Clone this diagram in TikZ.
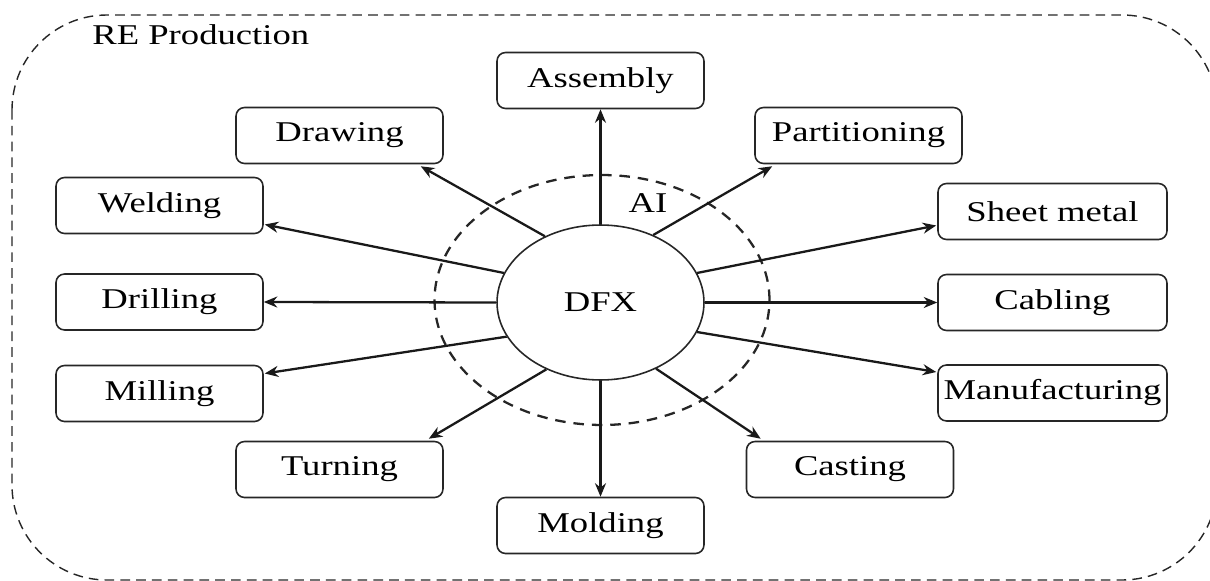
\documentclass[tikz,border=0pt]{standalone}
\usepackage{fontspec}
\setmainfont{Liberation Serif}[FakeStretch=1.28]
\usetikzlibrary{shapes.geometric,arrows.meta,calc}
\begin{document}
\begin{tikzpicture}[x=0.02cm,y=-0.02cm,
  box/.style={draw=black!85, line width=0.9pt, rounded corners=0.17cm,
    minimum width=4.14cm, minimum height=1.12cm, inner sep=0pt,
    font=\fontsize{16.3}{19}\selectfont, text=black},
  widebox/.style={box, minimum width=4.58cm},
  link/.style={draw=black!90, line width=1.3pt,
    -{Stealth[length=2.7mm,width=2.2mm]}},
  lbl/.style={font=\fontsize{16.3}{19}\selectfont, text=black, inner sep=0pt}]
\useasboundingbox (0,0) rectangle (1210,581);

% dashed enclosure of the production area
\draw[draw=black!85, line width=0.8pt, dash pattern=on 5.5pt off 3.5pt,
  rounded corners=1.9cm] (12,15) rectangle (1217,580);
\node[lbl, anchor=base west] (re) at (92,45) {RE Production};

% AI layer around the DFX hub
\node[ellipse, draw=black!85, line width=1.3pt, dash pattern=on 6pt off 4.5pt,
  minimum width=6.7cm, minimum height=5cm, inner sep=0pt] (ai) at (602,300) {};
\node[lbl, anchor=base] (ailbl) at (648,212) {AI};

% hub
\node[ellipse, draw=black!85, line width=0.9pt, fill=white,
  minimum width=4.14cm, minimum height=3.1cm, inner sep=0pt,
  font=\fontsize{16.3}{19}\selectfont] (dfx) at (600.5,302.5) {DFX};

% process boxes
\node[box] (assembly) at (600.5,80.5) {Assembly};
\node[box] (drawing) at (339.5,135.5) {Drawing};
\node[box] (partition) at (858.5,135.5) {Partitioning};
\node[box] (welding) at (159.5,205.5) {Welding};
\node[widebox] (sheet) at (1052.5,211.5) {Sheet metal};
\node[box] (drilling) at (159.5,302) {Drilling};
\node[widebox] (cabling) at (1052.5,302.5) {Cabling};
\node[box] (milling) at (159.5,393.5) {Milling};
\node[widebox] (manuf) at (1052.5,393) {Manufacturing};
\node[box] (turning) at (339.5,469.5) {Turning};
\node[box] (casting) at (850,469.5) {Casting};
\node[box] (molding) at (600.5,525.5) {Molding};

% connectors from the hub
\draw[link] (dfx.90) -- (assembly.south);
\draw[link] (dfx.270) -- (molding.north);
\draw[link] (dfx.180) -- (drilling.east);
\draw[link] (dfx.0) -- (cabling.west);
\draw[link] (dfx.163) -- ($(welding.east)+(1,19)$);
\draw[link] (dfx.-160) -- ($(milling.east)+(1,-20)$);
\draw[link] (dfx.17) -- ($(sheet.west)+(-1,14)$);
\draw[link] (dfx.-17) -- ($(manuf.west)+(-1,-21)$);
\draw[link] (dfx.130) -- ($(drawing.south east)+(-23,2)$);
\draw[link] (dfx.52) -- ($(partition.south west)+(18,2)$);
\draw[link] (dfx.-129) -- ($(turning.north east)+(-15,-2)$);
\draw[link] (dfx.-50) -- ($(casting.north west)+(15,-2)$);
\end{tikzpicture}
\end{document}
